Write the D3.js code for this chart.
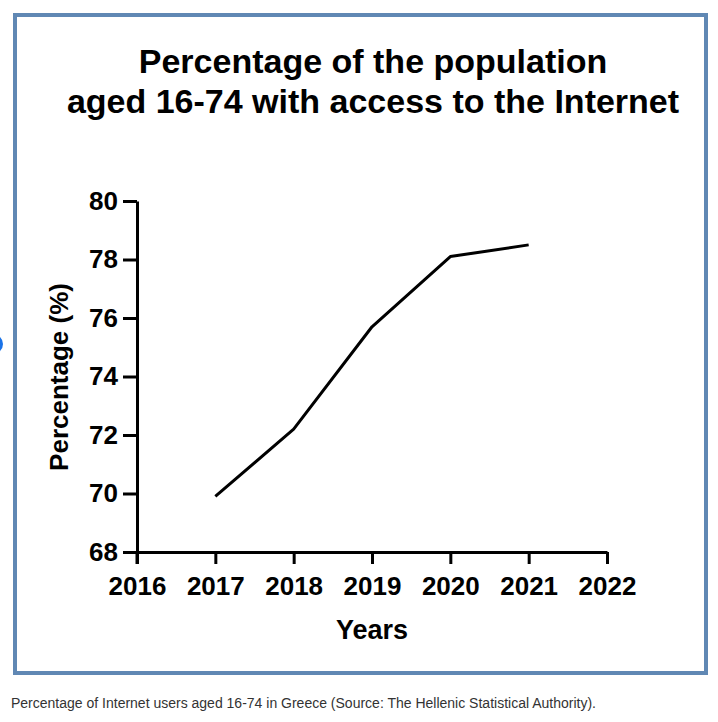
<!DOCTYPE html>
<html><head><meta charset="utf-8">
<script src="https://cdn.jsdelivr.net/npm/d3@7"></script>
<style>html,body{margin:0;padding:0;background:#fff;}svg{display:block;}</style>
</head><body>
<script>
const years = [2017, 2018, 2019, 2020, 2021];
const values = [69.9, 72.2, 75.7, 78.1, 78.5];
const xTicks = [2016, 2017, 2018, 2019, 2020, 2021, 2022];
const yTicks = [68, 70, 72, 74, 76, 78, 80];
const titleLines = ["Percentage of the population", "aged 16-74 with access to the Internet"];
const xLabel = "Years";
const yLabel = "Percentage (%)";
const caption = "Percentage of Internet users aged 16-74 in Greece (Source: The Hellenic Statistical Authority).";

const W = 718, H = 722;
const svg = d3.select("body").append("svg").attr("width", W).attr("height", H);
const font = "Arial, 'Liberation Sans', Helvetica, sans-serif";

// frame
svg.append("rect").attr("x", 15).attr("y", 15).attr("width", 691).attr("height", 658)
  .attr("fill", "#fff").attr("stroke", "#6088b4").attr("stroke-width", 4);
// partial circle at left edge
svg.append("circle").attr("cx", -7).attr("cy", 344).attr("r", 10).attr("fill", "#1a73e8");

const x = d3.scaleLinear().domain([2016, 2022]).range([137, 607]);
const y = d3.scaleLinear().domain([68, 80]).range([552, 201]);

// title
svg.append("g").selectAll("text").data(titleLines).join("text")
  .attr("x", 373).attr("y", (d, i) => 73 + i * 40)
  .attr("text-anchor", "middle").attr("font-family", font).attr("font-weight", "bold")
  .attr("font-size", 34).attr("fill", "#000").text(d => d);

// axes
const xAxis = svg.append("g").attr("transform", `translate(0,552)`)
  .call(d3.axisBottom(x).tickValues(xTicks).tickFormat(d3.format("d")).tickSize(12).tickPadding(13).tickSizeOuter(0));
const yAxis = svg.append("g").attr("transform", `translate(137,0)`)
  .call(d3.axisLeft(y).tickValues(yTicks).tickSize(14).tickPadding(5).tickSizeOuter(0));
[xAxis, yAxis].forEach(g => {
  g.select(".domain").attr("stroke", "#000").attr("stroke-width", 3);
  g.selectAll(".tick line").attr("stroke", "#000").attr("stroke-width", 3);
  g.selectAll(".tick text").attr("font-family", font).attr("font-weight", "bold")
    .attr("font-size", 26).attr("fill", "#000");
});
// extend y axis down through x axis at 2016
svg.append("line").attr("x1", 137).attr("x2", 137).attr("y1", 552).attr("y2", 564)
  .attr("stroke", "#000").attr("stroke-width", 3);

// line
svg.append("path").datum(years.map((yr, i) => [yr, values[i]]))
  .attr("fill", "none").attr("stroke", "#000").attr("stroke-width", 3)
  .attr("stroke-linejoin", "round")
  .attr("d", d3.line().x(d => x(d[0])).y(d => y(d[1])));

// axis labels
svg.append("text").attr("x", 372).attr("y", 639).attr("text-anchor", "middle")
  .attr("font-family", font).attr("font-weight", "bold").attr("font-size", 27).attr("fill", "#000").text(xLabel);
svg.append("text").attr("transform", "translate(68,377) rotate(-90)").attr("text-anchor", "middle")
  .attr("font-family", font).attr("font-weight", "bold").attr("font-size", 26).attr("fill", "#000").text(yLabel);

// caption
svg.append("text").attr("x", 11).attr("y", 708).attr("font-family", font)
  .attr("font-size", 14).attr("fill", "#333").text(caption);
</script>
</body></html>
